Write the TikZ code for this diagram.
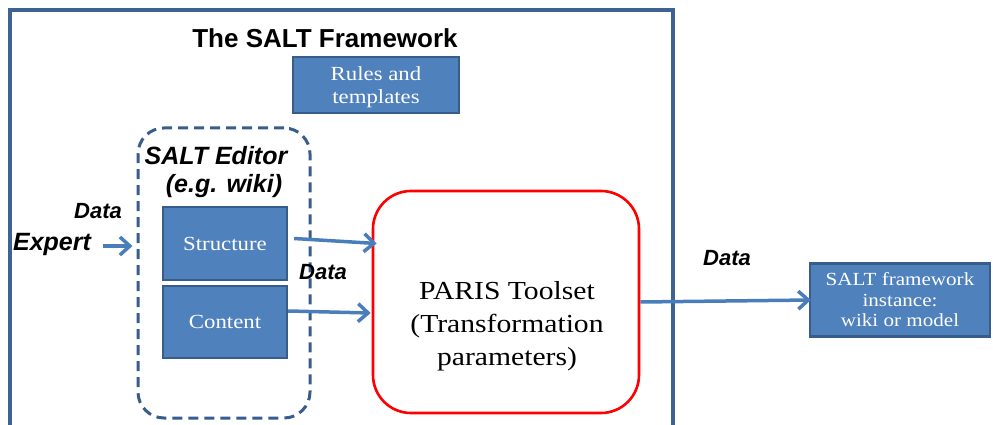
\documentclass[tikz,border=0pt]{standalone}
\usepackage{fontspec}
\setmainfont{Liberation Serif}
\setsansfont{Liberation Sans}
\newfontfamily\boxfont[FakeStretch=1.14]{Liberation Serif}
\usetikzlibrary{arrows.meta,calc}
\definecolor{frameblue}{HTML}{3D6293}
\definecolor{boxfill}{HTML}{4F81BD}
\definecolor{boxedge}{HTML}{385D8A}
\definecolor{arrowblue}{HTML}{4A7EBB}
\begin{document}
\begin{tikzpicture}[x=1pt,y=-1pt,
  bluebox/.style={draw=boxedge, line width=2.2pt, fill=boxfill, text=white,
    font=\boxfont\fontsize{20}{23}\selectfont, align=center, inner sep=0pt},
  lbl/.style={font=\sffamily\bfseries\itshape\fontsize{22}{26}\selectfont, inner sep=0pt},
  biglbl/.style={lbl, font=\sffamily\bfseries\itshape\fontsize{25}{30}\selectfont},
  arr/.style={draw=arrowblue, line width=3.5pt,
    -{Straight Barb[length=10pt,width=18pt,line width=3.5pt]}}]
\useasboundingbox (0,0) rectangle (993,425);

% outer framework border, open at the bottom
\draw[frameblue, line width=3.5pt] (10,425) -- (10,10) -- (673,10) -- (673,425);
\node[font=\sffamily\bfseries\fontsize{26}{30}\selectfont, inner sep=0pt] (title) at (325,38) {The SALT Framework};

\node[bluebox, minimum width=166pt, minimum height=56pt] (rules) at (376,85) {};
\node[text=white, font=\boxfont\fontsize{20}{23}\selectfont, align=center, inner sep=0pt] (rulestext) at (376,87) {Rules and\\templates};

% editor container
\node[draw=boxedge, dashed, dash pattern=on 10pt off 6pt, line width=3pt, rounded corners=26pt,
      minimum width=172pt, minimum height=290pt] (editor) at (224,273) {};
\node[biglbl] (edtitle) at (216,156) {SALT Editor};
\node[biglbl] (edsub) at (224,186) {(e.g. wiki)};

\node[bluebox, minimum width=124pt, minimum height=73pt] (struct) at (225,243.5) {Structure};
\node[bluebox, minimum width=124pt, minimum height=72pt] (content) at (225,322) {Content};

\node[lbl] (data1) at (98,211) {Data};
\node[biglbl] (expert) at (52,244) {Expert};
\node[lbl] (data2) at (323,272) {Data};
\node[lbl] (data3) at (727,258) {Data};

% transformation toolset
\node[draw=red, line width=2.6pt, rounded corners=38pt, minimum width=266pt, minimum height=222pt,
      inner sep=0pt] (paris) at (506,302) {};
\node[align=center, font=\boxfont\fontsize{26}{33}\selectfont, inner sep=0pt] (paristext) at (507,326)
      {PARIS Toolset\\(Transformation\\parameters)};

\node[bluebox, minimum width=180pt, minimum height=73pt, font=\boxfont\fontsize{18.5}{20.5}\selectfont] (out) at (900,300)
      {SALT framework\\instance:\\wiki or model};

% data flow
\draw[arr] ($(expert.east)+(12,2)$) -- ($(editor.west|-expert.east)+(-4,2)$);
\draw[arr] ($(struct.east)+(6,-5)$) -- ($(paris.west|-struct.east)+(5,0)$);
\draw[arr] ($(content.east)+(0,-11)$) -- ($(paris.west|-content.east)+(-1,-9)$);
\draw[arr] (paris.east) -- ($(out.west)+(2,0)$);
\end{tikzpicture}
\end{document}
